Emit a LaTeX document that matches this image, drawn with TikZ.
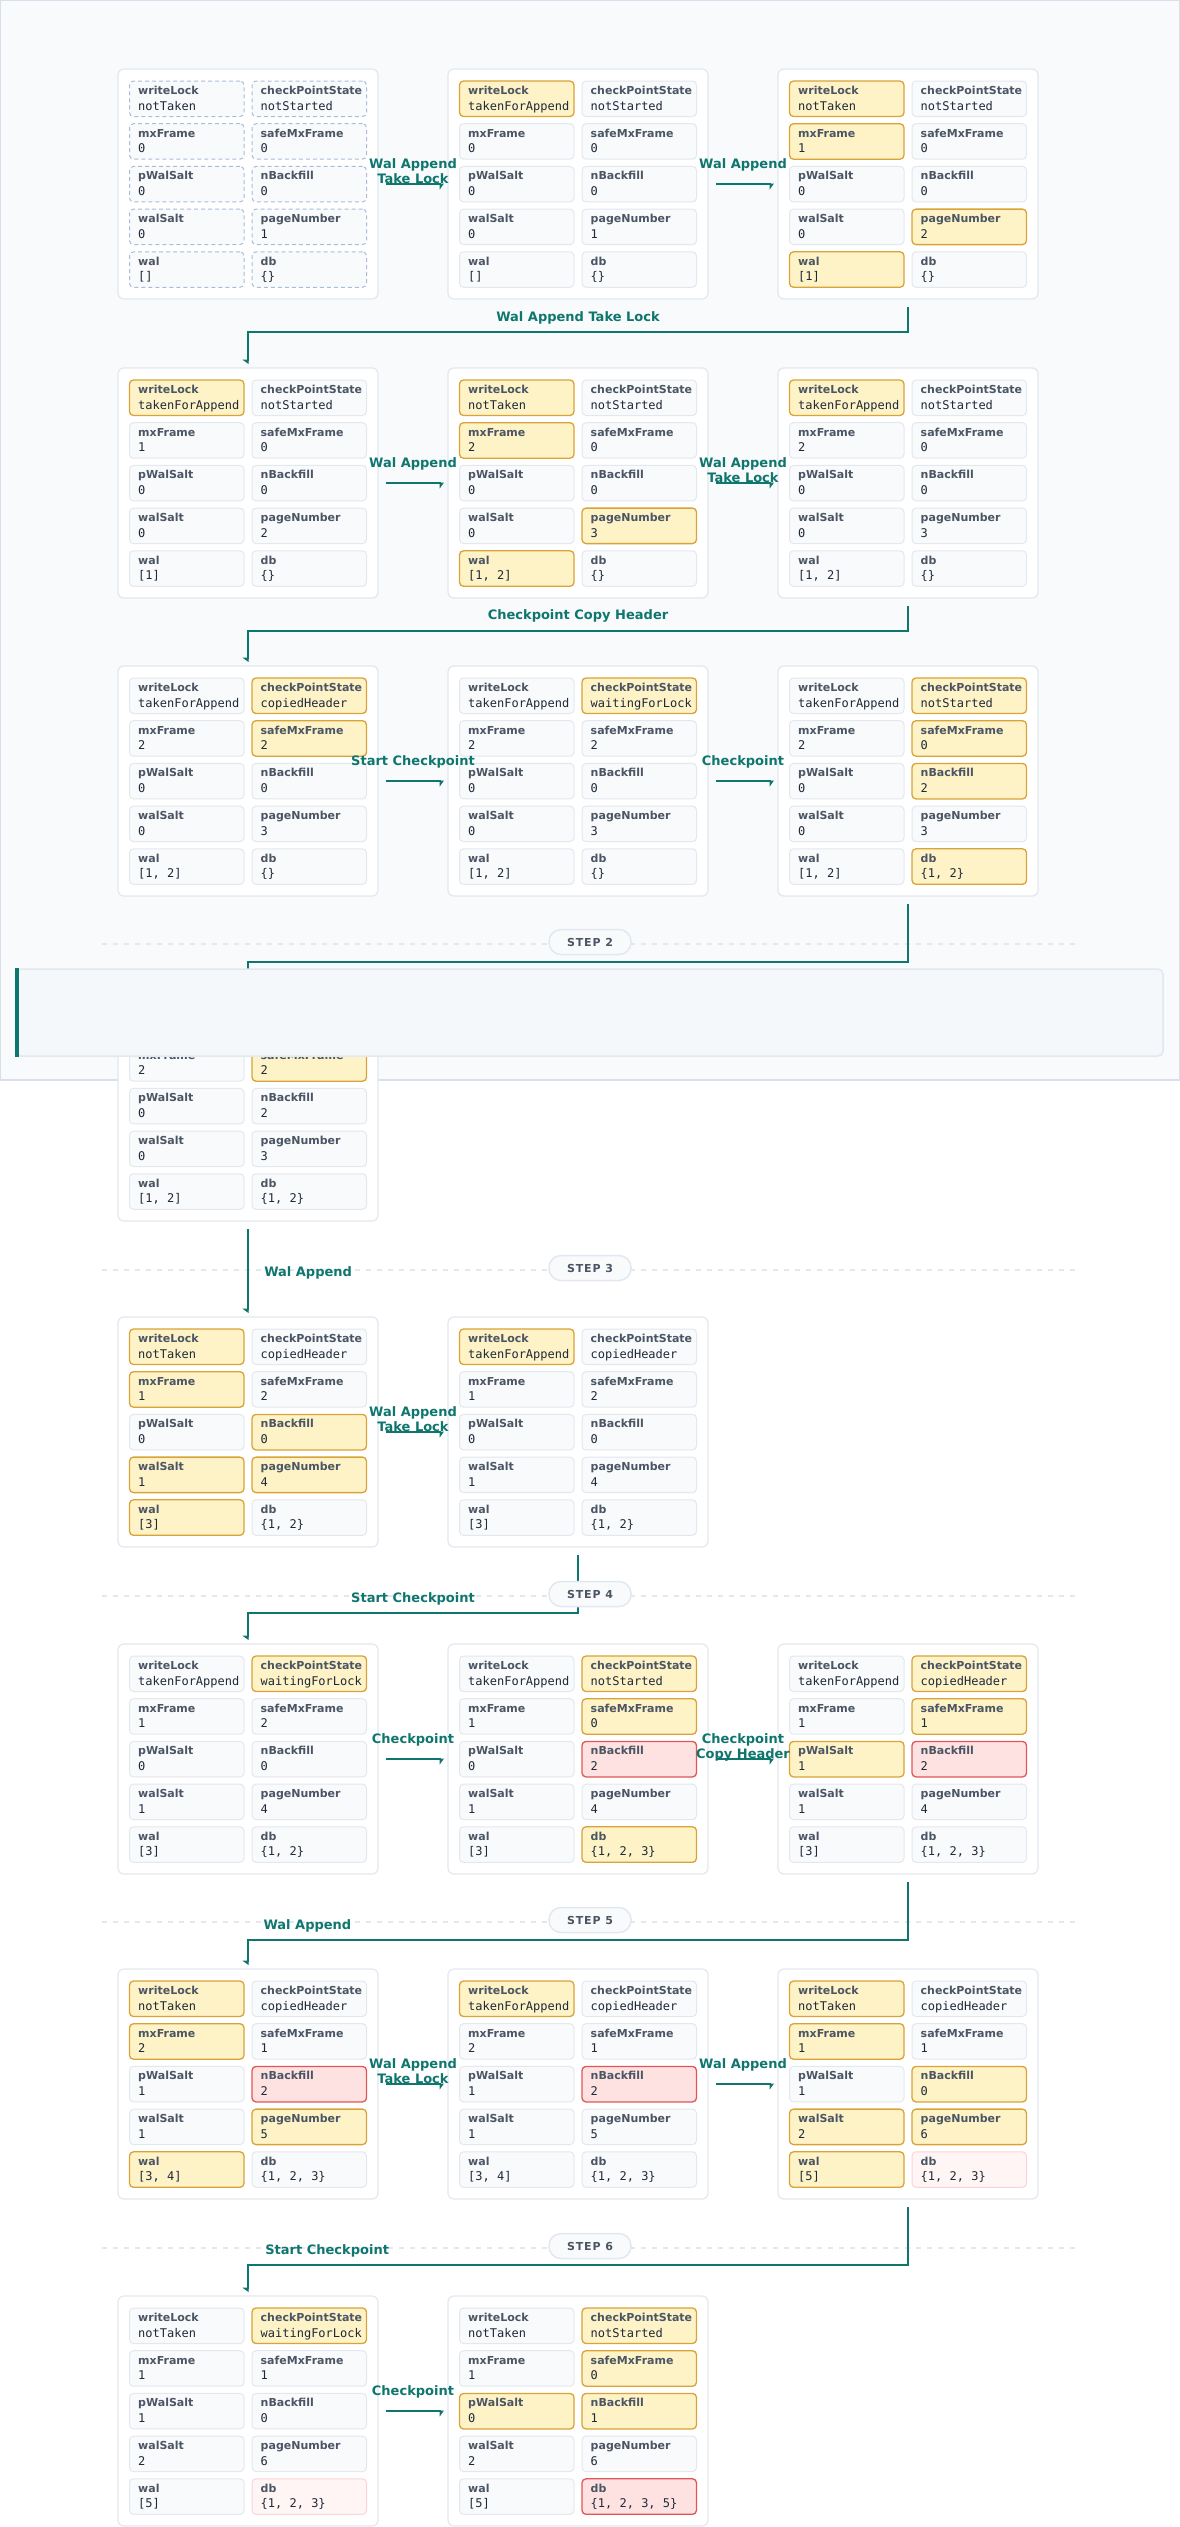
\documentclass[tikz,border=0pt]{standalone}
\usepackage{fontspec}
\setmainfont{DejaVu Sans}
\setmonofont{DejaVu Sans Mono}
\newfontfamily\stepfont[LetterSpace=8]{DejaVu Sans}
\usetikzlibrary{arrows.meta,calc,positioning}

\definecolor{flowcol}{HTML}{0F766E}
\definecolor{panelbg}{HTML}{F8FAFC}
\definecolor{panelline}{HTML}{D9E0EC}
\definecolor{boxline}{HTML}{E2E8F0}
\definecolor{cellbg}{HTML}{F8FAFC}
\definecolor{cellline}{HTML}{E3E8EF}
\definecolor{chgbg}{HTML}{FEF3C7}
\definecolor{chgline}{HTML}{D9A338}
\definecolor{badbg}{HTML}{FEE2E2}
\definecolor{badline}{HTML}{E05555}
\definecolor{palebg}{HTML}{FFF5F5}
\definecolor{paleline}{HTML}{FAD4D8}
\definecolor{initline}{HTML}{A9BDDB}
\definecolor{labcol}{HTML}{4B5563}
\definecolor{valcol}{HTML}{1F2937}
\definecolor{cardbg}{HTML}{F5F8FA}

\tikzset{
  statebox/.style={draw=boxline, fill=white, line width=1.2pt, rounded corners=6pt, anchor=north west, minimum width=260pt, minimum height=230pt, inner sep=0pt, outer sep=0pt},
  cellbox/.style={anchor=north west, minimum width=114.5pt, minimum height=35.5pt, inner sep=0pt, outer sep=0pt, rounded corners=4pt, line width=1pt},
  same/.style={draw=cellline, fill=cellbg},
  chg/.style={draw=chgline, fill=chgbg, line width=1.3pt},
  bad/.style={draw=badline, fill=badbg, line width=1.3pt},
  pale/.style={draw=paleline, fill=palebg},
  init/.style={draw=initline, fill=cellbg, dash pattern=on 4pt off 3pt},
  fieldlabel/.style={anchor=base west, inner sep=0pt, text=labcol, font=\fontsize{11}{13}\selectfont\bfseries},
  fieldvalue/.style={anchor=base west, inner sep=0pt, text=valcol, font=\fontsize{12}{14}\selectfont\ttfamily},
  flow/.style={draw=flowcol, line width=2.5pt, -{Triangle[harpoon,swap,length=4pt,width=11pt]}, shorten <=8pt, shorten >=4pt},
  edgelabel/.style={text=flowcol, font=\fontsize{13}{15}\selectfont\bfseries, align=center, inner sep=1pt},
  stepline/.style={draw=boxline, line width=1.5pt, dash pattern=on 5pt off 6pt},
  stepbadge/.style={draw=boxline, fill=panelbg, line width=1.5pt, rounded corners=12pt, minimum width=82pt, minimum height=25pt, inner sep=0pt, text=labcol, font=\stepfont\fontsize{11}{13}\selectfont\bfseries},
  cardbox/.style={draw=boxline, fill=cardbg, line width=1.5pt, rounded corners=5pt, minimum width=1147pt, minimum height=87pt, inner sep=0pt}
}

\newcommand{\fieldname}[1]{\ifcase#1 writeLock\or checkPointState\or mxFrame\or safeMxFrame\or pWalSalt\or nBackfill\or walSalt\or pageNumber\or wal\or db\fi}

% one state: name, x, y of top left corner, ten style/value pairs
\newcommand{\walstate}[4]{%
  \node[statebox] (#1) at (#2,#3) {};
  \foreach \st/\val [count=\n from 0] in {#4} {
    \pgfmathtruncatemacro{\col}{mod(\n,2)}
    \pgfmathtruncatemacro{\row}{div(\n,2)}
    \node[cellbox,\st] (#1-\n) at ($(#1.north west)+(11.5+122.5*\col,12+42.7*\row)$) {};
    \node[fieldlabel] (#1-\n-k) at ($(#1-\n.north west)+(8.5,13.5)$) {\fieldname{\n}};
    \node[fieldvalue] (#1-\n-v) at ($(#1-\n.north west)+(8.5,29)$) {\val};
  }
}

\begin{document}
\begin{tikzpicture}[x=1pt,y=-1pt]
\useasboundingbox (0,0) rectangle (1180,2527);
\filldraw[fill=panelbg, draw=panelline, line width=1.5pt] (0,0) rectangle (1180,1080);

% step dividers
\foreach \y in {944,1270,1596,1922,2248}
  \draw[stepline] (102,\y) -- (1078,\y);

% step 1
\walstate{s1a}{118}{69}{init/notTaken, init/notStarted, init/0, init/0, init/0, init/0, init/0, init/1, init/{[]}, init/\{\}}
\walstate{s1b}{448}{69}{chg/takenForAppend, same/notStarted, same/0, same/0, same/0, same/0, same/0, same/1, same/{[]}, same/\{\}}
\walstate{s1c}{778}{69}{chg/notTaken, same/notStarted, chg/1, same/0, same/0, same/0, same/0, chg/2, chg/{[1]}, same/\{\}}

\walstate{s2a}{118}{368}{chg/takenForAppend, same/notStarted, same/1, same/0, same/0, same/0, same/0, same/2, same/{[1]}, same/\{\}}
\walstate{s2b}{448}{368}{chg/notTaken, same/notStarted, chg/2, same/0, same/0, same/0, same/0, chg/3, chg/{[1, 2]}, same/\{\}}
\walstate{s2c}{778}{368}{chg/takenForAppend, same/notStarted, same/2, same/0, same/0, same/0, same/0, same/3, same/{[1, 2]}, same/\{\}}

\walstate{s3a}{118}{666}{same/takenForAppend, chg/copiedHeader, same/2, chg/2, same/0, same/0, same/0, same/3, same/{[1, 2]}, same/\{\}}
\walstate{s3b}{448}{666}{same/takenForAppend, chg/waitingForLock, same/2, same/2, same/0, same/0, same/0, same/3, same/{[1, 2]}, same/\{\}}
\walstate{s3c}{778}{666}{same/takenForAppend, chg/notStarted, same/2, chg/0, same/0, chg/2, same/0, same/3, same/{[1, 2]}, chg/{\{1, 2\}}}

% step 2
\walstate{s4a}{118}{991}{same/takenForAppend, chg/copiedHeader, same/2, chg/2, same/0, same/2, same/0, same/3, same/{[1, 2]}, same/{\{1, 2\}}}

% step 3
\walstate{s5a}{118}{1317}{chg/notTaken, same/copiedHeader, chg/1, same/2, same/0, chg/0, chg/1, chg/4, chg/{[3]}, same/{\{1, 2\}}}
\walstate{s5b}{448}{1317}{chg/takenForAppend, same/copiedHeader, same/1, same/2, same/0, same/0, same/1, same/4, same/{[3]}, same/{\{1, 2\}}}

% step 4
\walstate{s6a}{118}{1644}{same/takenForAppend, chg/waitingForLock, same/1, same/2, same/0, same/0, same/1, same/4, same/{[3]}, same/{\{1, 2\}}}
\walstate{s6b}{448}{1644}{same/takenForAppend, chg/notStarted, same/1, chg/0, same/0, bad/2, same/1, same/4, same/{[3]}, chg/{\{1, 2, 3\}}}
\walstate{s6c}{778}{1644}{same/takenForAppend, chg/copiedHeader, same/1, chg/1, chg/1, bad/2, same/1, same/4, same/{[3]}, same/{\{1, 2, 3\}}}

% step 5
\walstate{s7a}{118}{1969}{chg/notTaken, same/copiedHeader, chg/2, same/1, same/1, bad/2, same/1, chg/5, chg/{[3, 4]}, same/{\{1, 2, 3\}}}
\walstate{s7b}{448}{1969}{chg/takenForAppend, same/copiedHeader, same/2, same/1, same/1, bad/2, same/1, same/5, same/{[3, 4]}, same/{\{1, 2, 3\}}}
\walstate{s7c}{778}{1969}{chg/notTaken, same/copiedHeader, chg/1, same/1, same/1, chg/0, chg/2, chg/6, chg/{[5]}, pale/{\{1, 2, 3\}}}

% step 6
\walstate{s8a}{118}{2296}{same/notTaken, chg/waitingForLock, same/1, same/1, same/1, same/0, same/2, same/6, same/{[5]}, pale/{\{1, 2, 3\}}}
\walstate{s8b}{448}{2296}{same/notTaken, chg/notStarted, same/1, chg/0, chg/0, chg/1, same/2, same/6, same/{[5]}, bad/{\{1, 2, 3, 5\}}}

% transitions
\draw[flow] (s1a) -- (s1b) node[midway, anchor=north, yshift=28pt, edgelabel] {Wal Append\\Take Lock};
\draw[flow] (s1b) -- (s1c) node[midway, anchor=north, yshift=28pt, edgelabel] {Wal Append};
\draw[flow] (s1c.south) -- ++(0,33) -| node[pos=0.25, above=6pt, edgelabel] {Wal Append Take Lock} (s2a.north);
\draw[flow] (s2a) -- (s2b) node[midway, anchor=north, yshift=28pt, edgelabel] {Wal Append};
\draw[flow] (s2b) -- (s2c) node[midway, anchor=north, yshift=28pt, edgelabel] {Wal Append\\Take Lock};
\draw[flow] (s2c.south) -- ++(0,33) -| node[pos=0.25, above=6pt, edgelabel] {Checkpoint Copy Header} (s3a.north);
\draw[flow] (s3a) -- (s3b) node[midway, anchor=north, yshift=28pt, edgelabel] {Start Checkpoint};
\draw[flow] (s3b) -- (s3c) node[midway, anchor=north, yshift=28pt, edgelabel] {Checkpoint};
\draw[flow] (s3c.south) -- ++(0,66) -| (s4a.north);
\draw[flow] (s4a.south) -- (s5a.north) node[midway, anchor=west, xshift=14pt, yshift=-4pt, edgelabel] {Wal Append};
\draw[flow] (s5a) -- (s5b) node[midway, anchor=north, yshift=28pt, edgelabel] {Wal Append\\Take Lock};
\draw[flow] (s5b.south) -- ++(0,66) -| node[pos=0.25, above=6pt, edgelabel] {Start Checkpoint} (s6a.north);
\draw[flow] (s6a) -- (s6b) node[midway, anchor=north, yshift=28pt, edgelabel] {Checkpoint};
\draw[flow] (s6b) -- (s6c) node[midway, anchor=north, yshift=28pt, edgelabel] {Checkpoint\\Copy Header};
\draw[flow] (s6c.south) -- ++(0,66) -| node[pos=0.455, above=6pt, edgelabel] {Wal Append} (s7a.north);
\draw[flow] (s7a) -- (s7b) node[midway, anchor=north, yshift=28pt, edgelabel] {Wal Append\\Take Lock};
\draw[flow] (s7b) -- (s7c) node[midway, anchor=north, yshift=28pt, edgelabel] {Wal Append};
\draw[flow] (s7c.south) -- ++(0,66) -| node[pos=0.44, above=6pt, edgelabel] {Start Checkpoint} (s8a.north);
\draw[flow] (s8a) -- (s8b) node[midway, anchor=north, yshift=28pt, edgelabel] {Checkpoint};

% step badges
\node[stepbadge] (step2) at (590,942) {STEP 2};
\node[stepbadge] (step3) at (590,1268) {STEP 3};
\node[stepbadge] (step4) at (590,1594) {STEP 4};
\node[stepbadge] (step5) at (590,1920) {STEP 5};
\node[stepbadge] (step6) at (590,2246) {STEP 6};

% card lying over step 2
\node[cardbox] (hdr) at (589.5,1012.5) {};
\fill[flowcol] (hdr.north west) rectangle ([xshift=4pt]hdr.south west);
\end{tikzpicture}
\end{document}
